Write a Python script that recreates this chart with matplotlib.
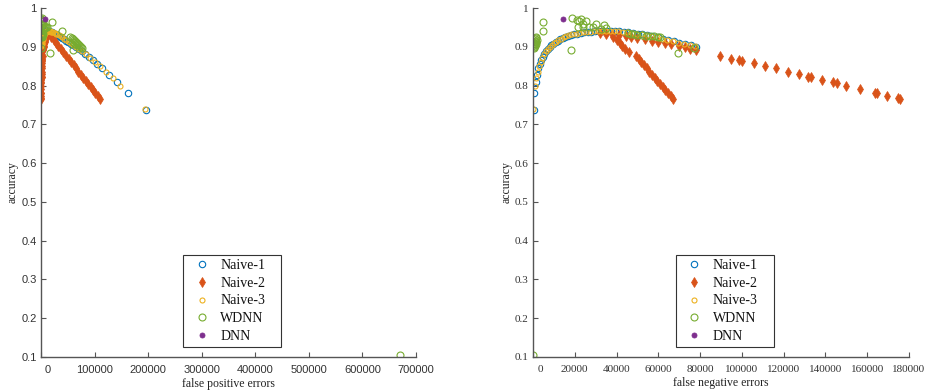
import matplotlib
matplotlib.use("Agg")
import matplotlib.pyplot as plt
import matplotlib.transforms as mtransforms

# ---------------------------------------------------------------
# Data (accuracy vs false pos / false neg)
# ---------------------------------------------------------------

# Naive-1 : threshold sweep
naive1_acc = [0.737, 0.782, 0.808, 0.828, 0.844, 0.856, 0.865, 0.874, 0.882, 0.888,
              0.894, 0.899, 0.904, 0.908, 0.912, 0.916, 0.919, 0.922, 0.925, 0.928,
              0.930, 0.932, 0.934, 0.936, 0.937, 0.938, 0.939, 0.940, 0.941, 0.941,
              0.941, 0.941, 0.940, 0.940, 0.939, 0.938, 0.936, 0.934, 0.932, 0.930,
              0.927, 0.924, 0.921, 0.918, 0.914, 0.911, 0.907, 0.904, 0.900]
naive1_fp = [196000, 163000, 142000, 127000, 114000, 105000, 97500, 90000, 82000, 76000,
             70000, 65000, 60000, 55500, 51000, 47000, 43000, 39500, 36000, 33000,
             30000, 27500, 25000, 22800, 20800, 19000, 17300, 15800, 14400, 13100,
             11900, 10800, 9800, 8900, 8000, 7200, 6400, 5700, 5000, 4400,
             3800, 3200, 2700, 2200, 1800, 1400, 1000, 700, 400]
naive1_fn = [300, 600, 1200, 1800, 2500, 3200, 3900, 4600, 5400, 6200,
             7000, 7900, 8800, 9800, 10800, 11900, 13000, 14200, 15500, 16800,
             18200, 19700, 21200, 22800, 24400, 26100, 27800, 29600, 31400, 33300,
             35200, 37200, 39200, 41300, 43400, 45600, 47800, 50100, 52400, 54800,
             57200, 59700, 62200, 64800, 67400, 70100, 72800, 75500, 78000]

# Naive-2 : two branches
naive2_acc = [0.925, 0.918, 0.910, 0.902, 0.895, 0.886, 0.876, 0.868, 0.860, 0.852,
              0.844, 0.836, 0.828, 0.820, 0.812, 0.804, 0.796, 0.788, 0.780, 0.772,
              0.765,
              0.936, 0.934, 0.932, 0.930, 0.927, 0.925, 0.922, 0.919, 0.915, 0.912,
              0.909, 0.906, 0.903, 0.899, 0.895, 0.891, 0.876, 0.869, 0.865, 0.863,
              0.857, 0.850, 0.844, 0.836, 0.829, 0.823, 0.821, 0.814, 0.808, 0.806,
              0.799, 0.791, 0.782, 0.780, 0.774, 0.767, 0.765]
naive2_fp = [19500, 23400, 28000, 32500, 36400, 41500, 47200, 51700, 56300, 60800,
             65300, 69800, 74400, 78900, 83400, 88000, 92500, 97000, 101500, 106000,
             110000,
             14000, 13000, 12000, 11000, 10000, 9000, 8500, 8000, 7500, 7000,
             6500, 6000, 5500, 5000, 4500, 4000, 3000, 2600, 2400, 2300,
             2000, 1800, 1600, 1400, 1200, 1100, 1000, 900, 800, 750,
             700, 600, 500, 450, 400, 300, 250]
naive2_fn = [38500, 40000, 41500, 42700, 44000, 46000, 49300, 50600, 51900, 53100,
             54400, 55700, 57000, 58300, 59500, 60800, 62100, 63400, 64700, 66000,
             67100,
             32000, 35000, 38000, 41000, 44500, 47000, 50000, 53500, 57000, 60000,
             63000, 66000, 70000, 73000, 75000, 78000, 89300, 94900, 98400, 100000,
             105700, 110900, 116300, 121900, 127200, 131700, 133300, 138400, 143700, 145300,
             149800, 156700, 163700, 164800, 169500, 174900, 175700]

# Naive-3
naive3_acc = [0.740, 0.800, 0.820, 0.835, 0.850, 0.862, 0.872, 0.882, 0.889, 0.895,
              0.900, 0.905, 0.909, 0.913, 0.917, 0.921, 0.924, 0.927, 0.930, 0.932,
              0.934, 0.936, 0.937, 0.938, 0.939, 0.940, 0.941, 0.941, 0.941, 0.941,
              0.940, 0.940, 0.939, 0.938, 0.936, 0.934, 0.932, 0.930, 0.927, 0.924,
              0.921, 0.918, 0.915, 0.911, 0.908, 0.904, 0.901]
naive3_fp = [195000, 148000, 134000, 121000, 110000, 100000, 91500, 84000, 77000, 71000,
             65500, 60500, 56000, 51500, 47500, 43500, 40000, 36500, 33500, 30500,
             28000, 25500, 23300, 21200, 19300, 17500, 15900, 14400, 13000, 11800,
             10700, 9700, 8700, 7900, 7000, 6200, 5500, 4800, 4200, 3600,
             3000, 2500, 2000, 1600, 1200, 800, 500]
naive3_fn = [200, 1000, 1600, 2300, 3000, 3700, 4400, 5300, 6200, 7100,
             8000, 9000, 10000, 11000, 12200, 13400, 14700, 16000, 17400, 18900,
             20500, 22100, 23800, 25500, 27300, 29100, 31000, 32900, 34800, 36800,
             38800, 40900, 43000, 45200, 47400, 49700, 52000, 54400, 56800, 59300,
             61800, 64300, 66900, 69600, 72300, 75000, 77500]

# WDNN
wdnn_acc = [0.925, 0.922, 0.920, 0.917, 0.915, 0.912, 0.910, 0.907, 0.905, 0.902,
            0.900, 0.897, 0.913, 0.908,
            0.963, 0.940, 0.885, 0.891, 0.105,
            0.975, 0.970, 0.966, 0.972, 0.952, 0.952, 0.966, 0.952, 0.952, 0.947,
            0.955, 0.949, 0.958, 0.960,
            0.935, 0.933, 0.932, 0.931, 0.930, 0.929, 0.928, 0.927, 0.926, 0.925,
            0.898]
wdnn_fp = [55000, 57000, 59000, 61000, 63000, 65000, 67000, 69000, 71000, 73000,
           75000, 77000, 60000, 64000,
           21000, 39700, 16800, 60300, 671000,
           1000, 1500, 2500, 800, 12000, 10000, 3500, 8000, 6000, 5000,
           1500, 3000, 2000, 4000,
           2000, 1500, 3000, 1000, 2500, 800, 1800, 600, 1200, 400,
           300]
wdnn_fn = [1500, 1200, 1000, 1800, 800, 1400, 600, 1000, 500, 800,
           400, 600, 1200, 1600,
           4900, 4800, 69300, 18400, 100,
           18900, 21000, 22100, 22900, 21600, 23700, 25300, 26900, 28800, 32500,
           34000, 34900, 30000, 24000,
           45600, 47000, 48500, 50000, 52000, 54000, 56000, 58000, 60000, 61000,
           77300]

# DNN
dnn_acc = [0.971]
dnn_fp = [7500]
dnn_fn = [14300]

left_xticks = [0, 100000, 200000, 300000, 400000, 500000, 600000, 700000]
right_xticks = [0, 20000, 40000, 60000, 80000, 100000, 120000, 140000, 160000, 180000]
yticks = [0.1, 0.2, 0.3, 0.4, 0.5, 0.6, 0.7, 0.8, 0.9, 1.0]
ytick_labels = ["0.1", "0.2", "0.3", "0.4", "0.5", "0.6", "0.7", "0.8", "0.9", "1"]

# MATLAB default colours
c_blue, c_orange, c_yellow, c_purple, c_green = "#0072BD", "#D95319", "#EDB120", "#7E2F8E", "#77AC30"

serif = ["Liberation Serif", "DejaVu Serif"]
sans = ["Liberation Sans", "DejaVu Sans"]

fig = plt.figure(figsize=(9.27, 3.92), dpi=100)
ax1 = fig.add_axes([41 / 927, 1 - 357 / 392, 375 / 927, 349 / 392])
ax2 = fig.add_axes([533 / 927, 1 - 357 / 392, 376 / 927, 349 / 392])


def draw(ax, key):
    xs = {"fp": (naive1_fp, naive2_fp, naive3_fp, wdnn_fp, dnn_fp),
          "fn": (naive1_fn, naive2_fn, naive3_fn, wdnn_fn, dnn_fn)}[key]
    ax.plot(xs[0], naive1_acc, "o", ls="none", mfc="none", mec=c_blue, ms=4.6, mew=0.8, label="Naive-1")
    ax.plot(xs[1], naive2_acc, "d", ls="none", mfc=c_orange, mec=c_orange, ms=5.0, mew=0.5, label="Naive-2")
    ax.plot(xs[2], naive3_acc, "o", ls="none", mfc="none", mec=c_yellow, ms=3.6, mew=0.8, label="Naive-3")
    ax.plot(xs[3], wdnn_acc, "o", ls="none", mfc="none", mec=c_green, ms=5.0, mew=0.8, label="WDNN")
    ax.plot(xs[4], dnn_acc, "o", ls="none", mfc=c_purple, mec=c_purple, ms=3.6, mew=0.6, label="DNN")


draw(ax1, "fp")
draw(ax2, "fn")

for ax, ticks, xmax, tfont, xlabel in [(ax1, left_xticks, 700000, sans, "false positive errors"),
                                      (ax2, right_xticks, 180000, serif, "false negative errors")]:
    ax.set_xlim(0, xmax)
    ax.set_ylim(0.1, 1.0)
    ax.set_xticks(ticks)
    ax.set_xticklabels([str(t) for t in ticks], family=tfont, fontsize=8, color="#333333")
    ax.set_yticks(yticks)
    ax.set_yticklabels(ytick_labels, family=tfont, fontsize=8, color="#333333")
    for s in ["top", "right"]:
        ax.spines[s].set_visible(False)
    for s in ["left", "bottom"]:
        ax.spines[s].set_color("#555555")
        ax.spines[s].set_linewidth(1.0)
    ax.tick_params(direction="in", length=3.5, width=0.8, color="#555555")
    ax.tick_params(axis="x", pad=6)
    ax.tick_params(axis="y", pad=3)
    ax.set_xlabel(xlabel, family=serif, fontsize=8.5, color="#222222", labelpad=2)
    ax.set_ylabel("accuracy", family=serif, fontsize=8.5, color="#222222", labelpad=2)
    # the "0" label sits a little right of the axis in the original
    lab0 = ax.get_xticklabels()[0]
    lab0.set_transform(lab0.get_transform() + mtransforms.ScaledTranslation(7 / 100, 0, fig.dpi_scale_trans))
    leg = ax.legend(loc="lower left", bbox_to_anchor=(0.379, 0.028, 0.262, 0.265), mode="expand",
                    prop={"family": serif, "size": 10},
                    frameon=True, fancybox=False, framealpha=1, edgecolor="#333333",
                    handlelength=2.0, handletextpad=0.35, labelspacing=0.33, borderpad=0.33,
                    borderaxespad=0)
    leg.get_frame().set_linewidth(0.8)
    for t in leg.get_texts():
        t.set_color("#111111")

fig.savefig("out.png", dpi=100)
